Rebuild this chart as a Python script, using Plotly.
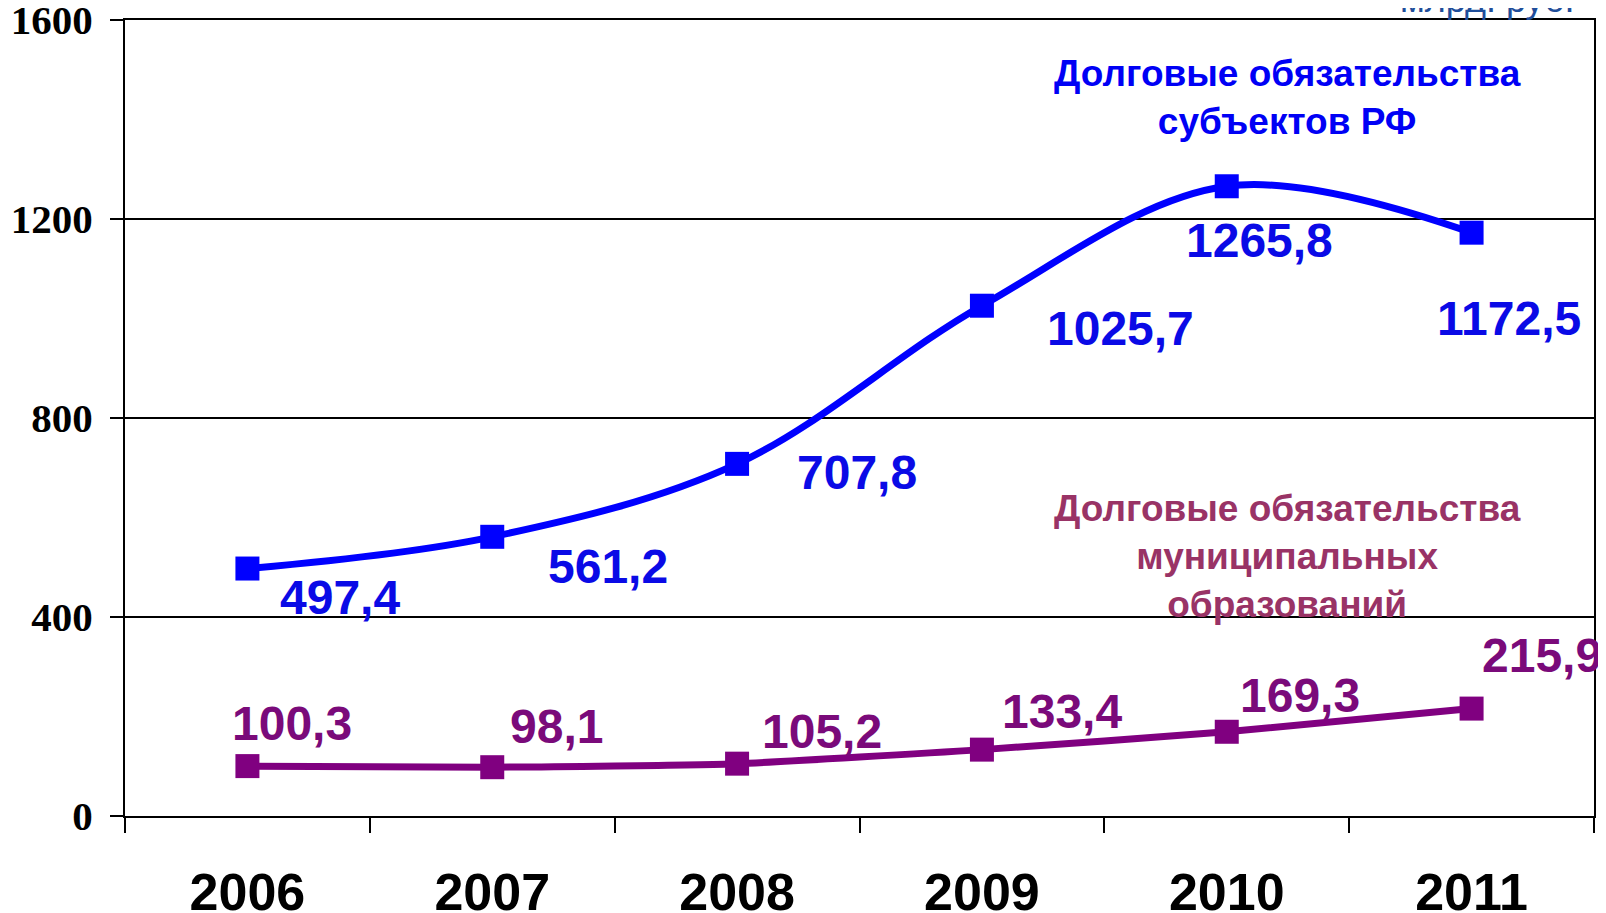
import plotly.graph_objects as go

years = ["2006", "2007", "2008", "2009", "2010", "2011"]
regions_debt = [497.4, 561.2, 707.8, 1025.7, 1265.8, 1172.5]
municipal_debt = [100.3, 98.1, 105.2, 133.4, 169.3, 215.9]
regions_labels = ["497,4", "561,2", "707,8", "1025,7", "1265,8", "1172,5"]
municipal_labels = ["100,3", "98,1", "105,2", "133,4", "169,3", "215,9"]
y_ticks = [0, 400, 800, 1200, 1600]

# label offsets in pixels (x right, y up)
regions_dx = [93, 116, 120, 139, 33, 37]
regions_dy = [-29, -30, -9, -23, -54, -86]
municipal_dx = [45, 64, 85, 80, 73, 70]
municipal_dy = [43, 41, 32, 38, 36, 53]

BLUE = "#0000FF"
PURPLE = "#800080"

fig = go.Figure()
fig.add_trace(go.Scatter(
    x=years, y=regions_debt, mode="lines+markers",
    line=dict(color=BLUE, width=7, shape="spline", smoothing=1.0),
    marker=dict(symbol="square", size=24, color=BLUE),
    showlegend=False, cliponaxis=False))
fig.add_trace(go.Scatter(
    x=years, y=municipal_debt, mode="lines+markers",
    line=dict(color=PURPLE, width=7, shape="spline", smoothing=0.5),
    marker=dict(symbol="square", size=24, color=PURPLE),
    showlegend=False, cliponaxis=False))

val_font = dict(family="Liberation Sans, Arial", size=48, weight="bold")
for i, yr in enumerate(years):
    fig.add_annotation(x=i, y=regions_debt[i], xref="x", yref="y",
                       text=regions_labels[i], showarrow=False,
                       xshift=regions_dx[i], yshift=regions_dy[i],
                       font=dict(color="#0A0AE6", **val_font))
    fig.add_annotation(x=i, y=municipal_debt[i], xref="x", yref="y",
                       text=municipal_labels[i], showarrow=False,
                       xshift=municipal_dx[i], yshift=municipal_dy[i],
                       font=dict(color="#7A0A7A", **val_font))

ann_font = dict(family="Liberation Sans, Arial", size=37, weight="bold")
fig.add_annotation(x=4.25, y=1538, xref="x", yref="y", xanchor="center",
                   yanchor="top",
                   text="Долговые обязательства<br>субъектов РФ",
                   showarrow=False, align="center",
                   font=dict(color="#0000F5", **ann_font))
fig.add_annotation(x=4.25, y=664, xref="x", yref="y", xanchor="center",
                   yanchor="top",
                   text="Долговые обязательства<br>муниципальных<br>образований",
                   showarrow=False, align="center",
                   font=dict(color="#993366", **ann_font))
fig.add_annotation(x=0.8666, y=0.9975, xref="paper", yref="paper",
                   xanchor="left", yanchor="bottom",
                   text="млрд. руб.", showarrow=False,
                   font=dict(family="Liberation Sans, Arial", size=36,
                             color="#1F4E9A"))

# page body has an 8px margin: figure is shrunk and margins offset to match
fig.update_layout(
    width=1598, height=905,
    margin=dict(l=117, r=12, t=12, b=97),
    plot_bgcolor="white", paper_bgcolor="white",
    xaxis=dict(type="category", categoryorder="array", categoryarray=years,
               range=[-0.5, 5.5], tickson="boundaries", ticks="outside",
               ticklen=15, tickwidth=2, tickcolor="black",
               showline=True, linewidth=2, linecolor="black", mirror=True,
               showgrid=False, zeroline=False, ticklabelstandoff=30,
               automargin=False,
               tickfont=dict(family="Liberation Sans, Arial", size=52,
                             weight="bold", color="black")),
    yaxis=dict(range=[0, 1600], tickvals=y_ticks, ticks="outside",
               ticklen=13, tickwidth=2, tickcolor="black",
               showline=True, linewidth=2, linecolor="black", mirror=True,
               showgrid=True, gridcolor="black", gridwidth=2,
               zeroline=False, ticklabelstandoff=9, automargin=False,
               ticklabeloverflow="allow",
               tickfont=dict(family="Liberation Serif, Times New Roman",
                             size=41, weight="bold", color="black")),
)

fig.write_html("out.html")
